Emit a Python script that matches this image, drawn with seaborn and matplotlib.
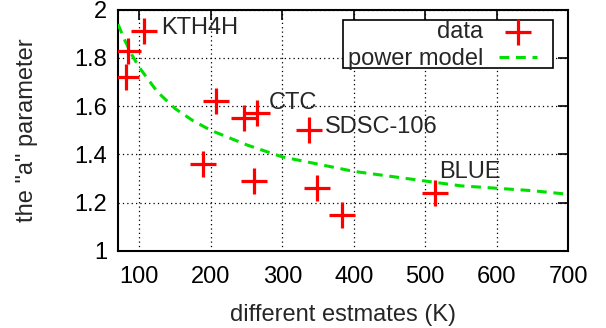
import pandas as pd
import matplotlib
matplotlib.use("Agg")
import matplotlib.pyplot as plt
import matplotlib.ticker as mticker
from matplotlib.patches import Rectangle
import seaborn as sns

# -----------------------------
# data
# -----------------------------
est_k = [107, 84, 81, 207, 247, 265, 337, 189, 260, 349, 383, 514]
a_param = [1.91, 1.83, 1.72, 1.62, 1.55, 1.57, 1.50, 1.36, 1.29, 1.26, 1.15, 1.24]

# names shown next to some points (index into the arrays above)
names = ["KTH4H", "CTC", "SDSC-106", "BLUE"]
name_idx = [0, 5, 6, 11]

# power model curve
model_x = [70, 80, 90, 100, 125, 150, 175, 200, 250, 300, 350, 400, 450, 500, 550, 600, 650, 700]
model_y = [1.94, 1.87, 1.81, 1.76, 1.66, 1.59, 1.54, 1.50, 1.44, 1.39, 1.36, 1.33, 1.31, 1.29,
           1.27, 1.26, 1.25, 1.235]

x_ticks = [100, 200, 300, 400, 500, 600, 700]
y_ticks = [1, 1.2, 1.4, 1.6, 1.8, 2]

df = pd.DataFrame({"est": est_k, "a": a_param})
df_model = pd.DataFrame({"x": model_x, "y": model_y})

sns.set_style("white")
plt.rcParams["font.family"] = ["Liberation Sans", "DejaVu Sans"]
fs = 17

fig = plt.figure(figsize=(6.06, 3.28), dpi=100)
ax = fig.add_axes([0.1947, 0.2348, 0.7426, 0.7356])

sns.lineplot(data=df_model, x="x", y="y", ax=ax, color="#00e000", lw=2.2,
             dashes=False, linestyle=(0, (3.2, 2.2)), label="power model", zorder=3)
sns.scatterplot(data=df, x="est", y="a", ax=ax, marker="+", s=340, color="#ff0000",
                linewidth=2.3, label="data", zorder=4)

offsets = [(12, 2.5), (8, 7.5), (12, 2.5), (3, 15)]
for n, i, off in zip(names, name_idx, offsets):
    ax.annotate(n, (est_k[i], a_param[i]), xytext=off, textcoords="offset points",
                ha="left", va="center", fontsize=fs)

ax.set_xlim(70, 700)
ax.set_ylim(1, 2)
ax.set_xticks(x_ticks)
ax.set_yticks(y_ticks)
ax.yaxis.set_major_formatter(mticker.FormatStrFormatter("%g"))
ax.grid(True, color="black", linestyle=(0, (1, 2.5)), linewidth=0.9)
ax.tick_params(direction="in", length=7, width=1.2, top=True, right=True,
               labelsize=fs, colors="black")
ax.tick_params(axis="x", pad=11)
ax.tick_params(axis="y", pad=8)
for sp in ax.spines.values():
    sp.set_linewidth(1.5)
    sp.set_color("black")

ax.set_xlabel("different estmates (K)", fontsize=fs, labelpad=11)
ax.set_ylabel('the "a" parameter', fontsize=fs, labelpad=26)

# legend box drawn like gnuplot's: text first, sample after, wide white box
ax.add_patch(Rectangle((0.5, 0.758), 0.4667, 0.199, transform=ax.transAxes,
                       facecolor="white", edgecolor="black", lw=1.2, zorder=9))
h, l = ax.get_legend_handles_labels()
order = [l.index("data"), l.index("power model")]
leg = ax.legend([h[i] for i in order], [l[i] for i in order], loc="upper right",
                bbox_to_anchor=(0.931, 0.953), markerfirst=False, frameon=False,
                fontsize=fs, handlelength=1.6, borderpad=0, labelspacing=0.2,
                handletextpad=0.68, borderaxespad=0)
leg.set_zorder(10)

fig.savefig("out.png", dpi=100)
